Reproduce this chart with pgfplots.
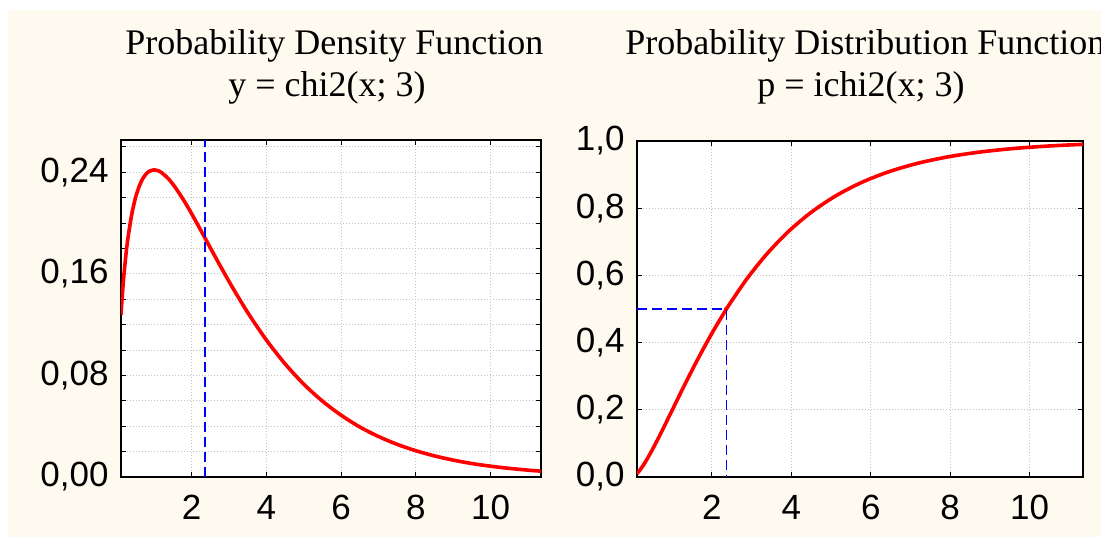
\documentclass[border=0pt]{standalone}
\usepackage{fontspec}
\setmainfont{Liberation Sans}
\newfontfamily\titlefont{Liberation Serif}
\usepackage{pgfplots}
\pgfplotsset{compat=1.18}

\definecolor{panelbg}{RGB}{254,250,240}
\definecolor{gridgray}{RGB}{195,195,195}

\pgfplotsset{
  distrib/.style={
    scale only axis,
    anchor=south west,
    axis background/.style={fill=white},
    axis line style={line width=1pt},
    tick align=inside,
    tick style={black, line width=0.5pt},
    major tick length=2.5pt,
    minor tick length=2.5pt,
    grid=both,
    major grid style={gridgray, line width=0.5pt, dash pattern=on 0.5pt off 1pt},
    minor grid style={gridgray, line width=0.5pt, dash pattern=on 0.5pt off 1pt},
    xtick={2,4,6,8,10},
    scaled ticks=false,
    tick label style={font=\fontsize{17.5}{20}\selectfont},
    xticklabel style={anchor=north, inner sep=0pt, yshift=-9pt},
    yticklabel style={anchor=east, inner sep=0pt, xshift=-6pt},
    /pgf/number format/assume math mode=true,
    /pgf/number format/use comma,
    /pgf/number format/fixed,
    /pgf/number format/fixed zerofill,
    xticklabel={\pgfmathprintnumber[precision=0,fixed zerofill=false]{\tick}},
  },
  curve/.style={red, line width=1.8pt, smooth, no markers},
  guide/.style={blue, line width=0.9pt, dash pattern=on 5pt off 2.5pt, no markers},
}

\begin{document}
\begin{tikzpicture}
\path[use as bounding box] (0,0) rectangle (550.5pt,268.5pt);
\fill[white] (0,0) rectangle (550.5pt,268.5pt);
\fill[panelbg] (4pt,0) rectangle (550.5pt,263.5pt);

% density of chi-square with 3 degrees of freedom
\begin{axis}[distrib,
  at={(60.5pt,30pt)}, width=210pt, height=168.5pt,
  xmin=0.1148, xmax=11.345, ymin=0, ymax=0.2655,
  ytick={0,0.08,0.16,0.24},
  minor ytick={0.02,0.04,0.06,0.10,0.12,0.14,0.18,0.20,0.22,0.26},
  yticklabel style={/pgf/number format/precision=2},
]
\addplot[curve] coordinates {
(0.1148,0.1276) (0.13,0.1348) (0.15,0.1433) (0.175,0.1529) (0.2,0.1614)
(0.25,0.1760) (0.3,0.1881) (0.4,0.2066) (0.5,0.2197) (0.6,0.2289)
(0.7,0.2352) (0.8,0.2392) (0.9,0.2413) (1.0,0.2420) (1.1,0.2414)
(1.2,0.2398) (1.4,0.2344) (1.6,0.2267) (1.8,0.2176) (2.0,0.2076)
(2.366,0.1880) (2.5,0.1807) (3.0,0.1542) (3.5,0.1297) (4.0,0.1080)
(4.5,0.0892) (5.0,0.0732) (5.5,0.0598) (6.0,0.0487) (6.5,0.0394)
(7.0,0.0319) (7.5,0.0257) (8.0,0.0207) (8.5,0.0166) (9.0,0.0133)
(9.5,0.0106) (10.0,0.0085) (10.5,0.0068) (11.0,0.0054) (11.345,0.0046)
};
\addplot[guide] coordinates {(2.366,0) (2.366,0.2655)};
\end{axis}

% cumulative distribution of chi-square with 3 degrees of freedom
\begin{axis}[distrib,
  at={(318.5pt,30pt)}, width=223pt, height=168pt,
  xmin=0.1148, xmax=11.345, ymin=0, ymax=1,
  ytick={0,0.2,0.4,0.6,0.8,1.0},
  yticklabel style={/pgf/number format/precision=1},
]
\addplot[curve] coordinates {
(0.1148,0.0100) (0.18,0.0192) (0.32,0.0438) (0.5,0.0811) (0.72,0.1315)
(0.98,0.1939) (1.28,0.2661) (1.62,0.3451) (2.0,0.4276) (2.366,0.5000)
(2.42,0.5101) (2.88,0.5895) (3.38,0.6633) (3.92,0.7298) (4.5,0.7877)
(5.12,0.8368) (5.78,0.8772) (6.48,0.9095) (7.22,0.9348) (8.0,0.9540)
(8.82,0.9682) (9.68,0.9785) (10.58,0.9858) (11.345,0.9900)
};
\addplot[guide] coordinates {(0.1148,0.5) (2.366,0.5) (2.366,0)};
\end{axis}

\begin{scope}[font=\titlefont\fontsize{18}{21}\selectfont]
\node[anchor=base west, inner sep=0pt] at (62.5pt,241.5pt) {Probability Density Function};
\node[anchor=base west, inner sep=0pt] at (114pt,220.5pt) {y = chi2(x; 3)};
\node[anchor=base west, inner sep=0pt] at (312.5pt,241.5pt) {Probability Distribution Function};
\node[anchor=base west, inner sep=0pt] at (378.5pt,220.5pt) {p = ichi2(x; 3)};
\end{scope}
\end{tikzpicture}
\end{document}
